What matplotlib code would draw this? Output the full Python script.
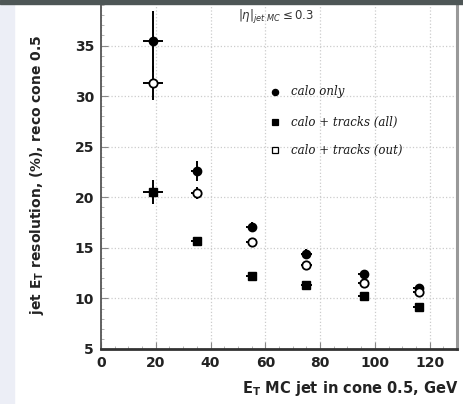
import numpy as np
import matplotlib
matplotlib.use("Agg")
from matplotlib import pyplot as plt
from matplotlib.patches import Rectangle

# jet E_T values (GeV)
et = [19, 35, 55, 75, 96, 116]
et_err = [3.5, 2.0, 2.0, 2.0, 2.0, 2.0]

# resolution (%) per sample
calo_only = [35.4, 22.6, 17.1, 14.4, 12.4, 11.0]
calo_only_err = [3.0, 1.0, 0.5, 0.5, 0.4, 0.3]
calo_all = [20.5, 15.7, 12.2, 11.3, 10.2, 9.2]
calo_all_err = [1.2, 0.4, 0.3, 0.3, 0.3, 0.3]
calo_out = [31.3, 20.4, 15.6, 13.3, 11.5, 10.6]
calo_out_err = [1.7, 0.6, 0.4, 0.4, 0.3, 0.3]

xticks = [0, 20, 40, 60, 80, 100, 120]
yticks = [5, 10, 15, 20, 25, 30, 35]

fig = plt.figure(figsize=(4.64, 4.04), dpi=100)
ax = fig.add_axes([101 / 464, 1 - 349 / 404, 356 / 464, 349 / 404])

ax.errorbar(et, calo_only, yerr=calo_only_err, xerr=et_err, fmt='o', color='black',
            ms=6, elinewidth=1.4, capsize=0)
ax.errorbar(et, calo_all, yerr=calo_all_err, xerr=et_err, fmt='s', color='black',
            ms=6, elinewidth=1.4, capsize=0)
ax.errorbar(et, calo_out, yerr=calo_out_err, xerr=et_err, fmt='o', color='black',
            mfc='white', mec='black', mew=1.3, ms=6, elinewidth=1.4, capsize=0)

ax.set_xlim(0, 130)
ax.set_ylim(5, 39.5)
ax.set_xticks(xticks)
ax.set_yticks(yticks)
ax.set_xticks(np.arange(0, 131, 5), minor=True)
ax.set_yticks(np.arange(5, 40, 1), minor=True)
ax.grid(True, which='major', color='#cccccc', linestyle=':', linewidth=0.9)
ax.tick_params(which='both', direction='in', top=False, right=False)
ax.tick_params(which='major', length=5, width=0.8, labelsize=10, pad=5, color='#888888')
ax.tick_params(which='minor', length=2.5, width=0.6, color='#aaaaaa')
for lab in ax.get_xticklabels() + ax.get_yticklabels():
    lab.set_fontweight('bold')
    lab.set_color('#222222')

ax.spines['left'].set_linewidth(1.3)
ax.spines['left'].set_color('#555555')
ax.spines['bottom'].set_linewidth(2.0)
ax.spines['bottom'].set_color('#333333')
ax.spines['right'].set_linewidth(2.2)
ax.spines['right'].set_color('#999999')
ax.spines['top'].set_visible(False)

ax.set_ylabel(r'jet E$_\mathregular{T}$ resolution, (%), reco cone 0.5',
              fontsize=10, fontweight='bold', color='#222222')
ax.yaxis.set_label_coords(-0.155, 0.5)
fig.text(458 / 464, 1 - 388 / 404, r'E$_\mathregular{T}$ MC jet in cone 0.5, GeV',
         ha='right', va='center', fontsize=10.5, fontweight='bold', color='#222222')

# legend by hand
leg_x = 275
rows = [(92, 'o', 'black', 'calo only'),
        (122, 's', 'black', 'calo + tracks (all)'),
        (150, 's', 'white', 'calo + tracks (out)')]
for py, mk, fc, txt in rows:
    xd = (leg_x - 101) / 356 * 130
    yd = 5 + (349 - py) / 349 * 34.5
    ax.plot([xd], [yd], marker=mk, ms=4.5, mfc=fc, mec='black', mew=0.9, ls='none')
    ax.text(xd + 6, yd, txt, fontsize=8.5, family='DejaVu Serif', style='italic',
            va='center', ha='left', color='#1a1a1a')

ax.text(0.385, 0.95, r'$|\eta|_{jet\ MC} \leq 0.3$', transform=ax.transAxes,
        fontsize=8.5, family='DejaVu Serif', color='#333333', va='center')

# frame bits of the scanned picture
fig.patches.append(Rectangle((0, 1 - 4 / 404), 1, 4 / 404, transform=fig.transFigure,
                             color='#4e5656', zorder=10))
fig.patches.append(Rectangle((0, 0), 14 / 464, 1, transform=fig.transFigure,
                             color='#eceef6', zorder=-1))

fig.savefig('out.png', dpi=100)
